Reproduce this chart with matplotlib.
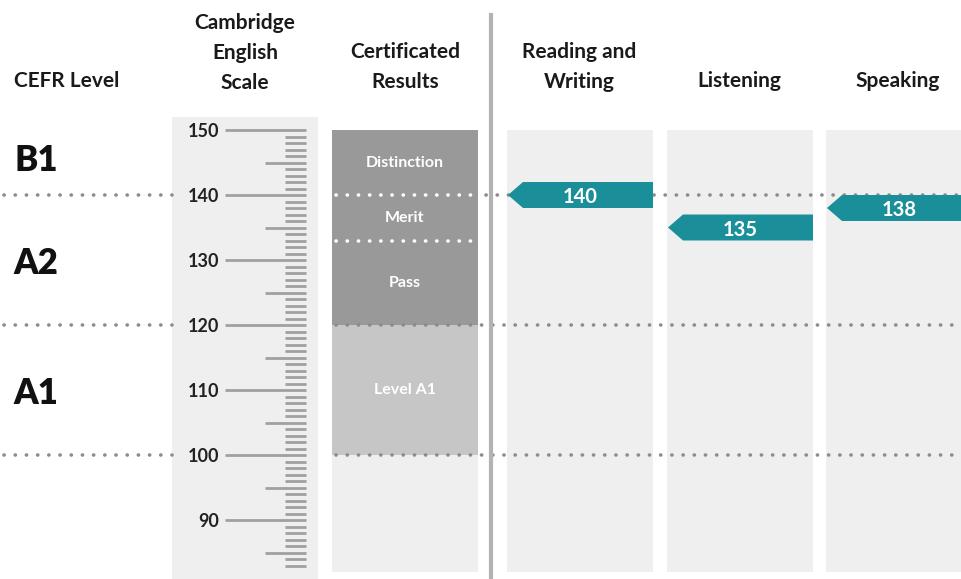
import matplotlib
matplotlib.use("Agg")
import matplotlib.pyplot as plt
from matplotlib.patches import Rectangle, Polygon
import numpy as np

# ---------------- data ----------------
cefr_levels = ["B1", "A2", "A1"]
cefr_label_scores = [145.8, 130, 110]
cefr_boundaries = [140, 120, 100]

scale_major = [150, 140, 130, 120, 110, 100, 90]
scale_min, scale_max = 83, 150

cert_bands = ["Distinction", "Merit", "Pass", "Level A1"]
cert_upper = [150, 140, 133, 120]
cert_lower = [140, 133, 120, 100]

skills = ["Reading and\nWriting", "Listening", "Speaking"]
skill_scores = [140, 135, 138]

# ---------------- style ----------------
plt.rcParams["font.family"] = ["Lato", "DejaVu Sans"]
PX = 6.5  # pixels per scale point
W, H = 961, 579
y150 = 130
ybot = 150 - (H - y150) / PX
ytop = 150 + y150 / PX

def v(p):  # pixel row -> scale value (for layout only)
    return 150 - (p - y150) / PX

panel_bg = "#efefef"
dark_band = "#999999"
light_band = "#c6c6c6"
teal = "#1a8f99"
dot_gray = "#8c8c8c"
tick_gray = "#a0a0a0"

fig = plt.figure(figsize=(W / 100, H / 100), dpi=100)
ax = fig.add_axes([0, 0, 1, 1])
ax.set_xlim(0, W)
ax.set_ylim(ybot, ytop)
ax.axis("off")

# column layout (x positions)
scale_x0, scale_x1 = 172, 318
cert_x0, cert_x1 = 332, 478
skill_x0 = [507, 667, 826]
skill_w = 146
panel_bottom = v(572)

# scale panel
ax.add_patch(Rectangle((scale_x0, ybot), scale_x1 - scale_x0, v(117) - ybot,
                       facecolor=panel_bg, edgecolor="none", zorder=1))
# cert panel background
ax.add_patch(Rectangle((cert_x0, panel_bottom), cert_x1 - cert_x0, 150 - panel_bottom,
                       facecolor=panel_bg, edgecolor="none", zorder=1))
# skill panels
for x0 in skill_x0:
    ax.add_patch(Rectangle((x0, panel_bottom), skill_w, 150 - panel_bottom,
                           facecolor=panel_bg, edgecolor="none", zorder=1))

# dotted CEFR boundary lines
dot_kw = dict(linewidth=2.6, linestyle=(0, (0.05, 3.05)), dash_capstyle="round")
for b in cefr_boundaries:
    ax.plot([4, scale_x0], [b, b], color=dot_gray, zorder=3, **dot_kw)
    if b == 140:
        ax.plot([cert_x1 + 8, W], [b, b], color=dot_gray, zorder=3, **dot_kw)
    else:
        ax.plot([cert_x0 + 4, W], [b, b], color=dot_gray, zorder=3, **dot_kw)

# certificated result bands
for name, hi, lo in zip(cert_bands, cert_upper, cert_lower):
    col = light_band if name == "Level A1" else dark_band
    ax.add_patch(Rectangle((cert_x0, lo), cert_x1 - cert_x0, hi - lo,
                           facecolor=col, edgecolor="none", zorder=2))
    ax.text((cert_x0 + cert_x1) / 2, (hi + lo) / 2 + 0.2, name, color="white",
            fontsize=11.5, fontweight="bold", ha="center", va="center_baseline",
            zorder=5)
# white dotted lines between dark bands
for b in cert_upper[1:3]:
    ax.plot([cert_x0 + 4, cert_x1], [b, b], color="white", zorder=4, **dot_kw)

# scale ticks
for s in range(scale_min, scale_max + 1):
    if s in scale_major:
        x0 = 225
        ax.text(219, s, str(s), fontsize=13, fontweight="bold", color="#222222",
                ha="right", va="center_baseline", zorder=5)
    elif s % 5 == 0:
        x0 = 265
    else:
        x0 = 285
    ax.plot([x0, 306], [s, s], color=tick_gray, linewidth=2, solid_capstyle="butt", zorder=3)

# separator
ax.plot([491, 491], [ybot, v(15)], color="#b3b3b3", linewidth=3, zorder=3)

# CEFR level labels
for lab, s in zip(cefr_levels, cefr_label_scores):
    ax.text(36, s, lab, fontsize=25, fontweight="heavy", color="#111111",
            ha="center", va="center_baseline", zorder=5)

# skill arrows
half = 13 / PX
tip = 15
for x0, sc in zip(skill_x0, skill_scores):
    xs = x0 + 1
    xe = min(x0 + skill_w, W)
    poly = Polygon([(xs, sc), (xs + tip, sc + half), (xe, sc + half),
                    (xe, sc - half), (xs + tip, sc - half)],
                   closed=True, facecolor=teal, edgecolor="none", zorder=6)
    ax.add_patch(poly)
    ax.text(x0 + skill_w / 2, sc, str(sc), color="white", fontsize=14.5,
            fontweight="bold", ha="center", va="center_baseline", zorder=7)

# headers
hdr = dict(fontsize=15, fontweight="bold", color="#1a1a1a", ha="center",
           va="center", linespacing=1.6)
ax.text(67, v(81), "CEFR Level", **hdr)
ax.text(245, v(53), "Cambridge\nEnglish\nScale", **hdr)
ax.text(405, v(67), "Certificated\nResults", **hdr)
for x0, name in zip(skill_x0, skills):
    yc = v(67) if "\n" in name else v(81)
    ax.text(x0 + skill_w / 2 - 1, yc, name, **hdr)

fig.savefig("out.png", dpi=100)
